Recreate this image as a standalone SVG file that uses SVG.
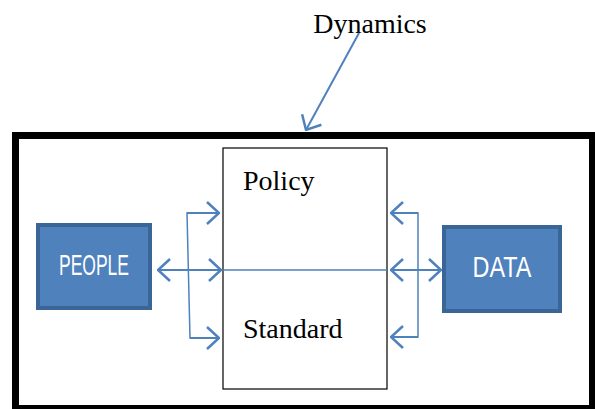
<svg xmlns="http://www.w3.org/2000/svg" width="595" height="409" viewBox="0 0 595 409">
<style>
.conn{stroke:#4F81BD;stroke-width:2;fill:none}
.thin{stroke:#4F81BD;stroke-width:1.5;fill:none}
.serif{font-family:"Liberation Serif","Times New Roman",serif;font-size:28px;fill:#000}
.lbl{font-family:"Liberation Sans",Arial,sans-serif;font-size:30px;fill:#fff;text-anchor:middle}
.blk{fill:#4F81BD;stroke:#3A6597;stroke-width:4}
</style>
<defs>
<marker id="ah" viewBox="0 0 14 24" refX="13" refY="12" markerWidth="14" markerHeight="24" markerUnits="userSpaceOnUse" orient="auto-start-reverse">
<path d="M1,1 L13,12 L1,23" fill="none" stroke="#4F81BD" stroke-width="2.5"/>
</marker>
</defs>
<rect x="15.5" y="135.5" width="577" height="273" fill="#fff" stroke="#000" stroke-width="7"/>
<g id="dynamics">
<text class="serif" x="370" y="33" text-anchor="middle">Dynamics</text>
</g>
<g id="core">
<rect x="223" y="148" width="164" height="241" fill="#fff" stroke="#000" stroke-width="1.2"/>
<text class="serif" x="243" y="190">Policy</text>
<text class="serif" x="243" y="338">Standard</text>
</g>
<g id="people">
<rect class="blk" x="38" y="225" width="112" height="83"/>
<text class="lbl" x="94" y="275" textLength="70" lengthAdjust="spacingAndGlyphs">PEOPLE</text>
</g>
<g id="data">
<rect class="blk" x="444" y="227" width="116" height="84"/>
<text class="lbl" x="502" y="277" textLength="59" lengthAdjust="spacingAndGlyphs">DATA</text>
</g>
<g id="connectors">
<line class="conn" x1="359" y1="33" x2="306" y2="130" marker-end="url(#ah)"/>
<line class="thin" x1="223" y1="270" x2="387" y2="270"/>
<polyline class="thin" points="218,213 187,213 190,338 218,338"/>
<line class="conn" x1="187" y1="213" x2="219" y2="213" marker-end="url(#ah)"/>
<line class="conn" x1="190" y1="338" x2="219" y2="338" marker-end="url(#ah)"/>
<line class="conn" x1="158" y1="270" x2="221" y2="270" marker-start="url(#ah)" marker-end="url(#ah)"/>
<polyline class="thin" points="392,213 418,213 418,337 392,337"/>
<line class="conn" x1="418" y1="213" x2="391" y2="213" marker-end="url(#ah)"/>
<line class="conn" x1="418" y1="337" x2="391" y2="337" marker-end="url(#ah)"/>
<line class="conn" x1="391" y1="270" x2="441" y2="270" marker-start="url(#ah)" marker-end="url(#ah)"/>
</g>
</svg>
